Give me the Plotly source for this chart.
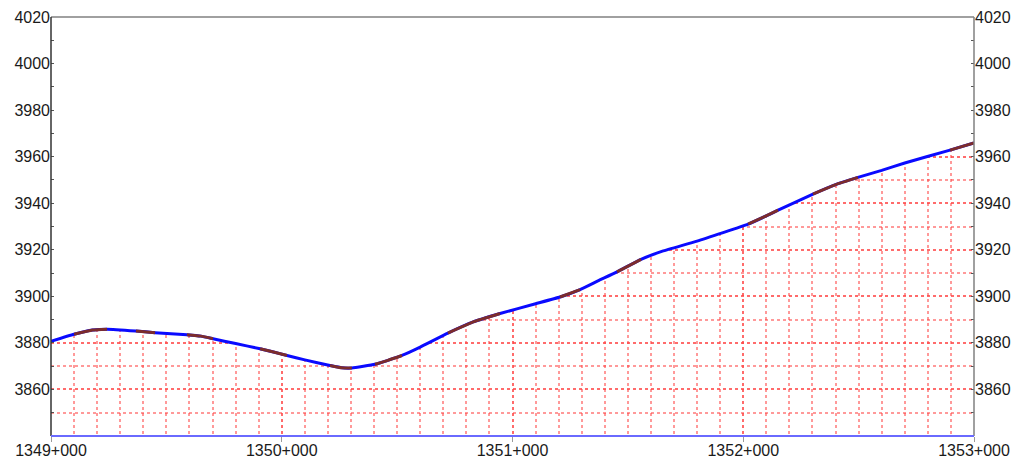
import plotly.graph_objects as go

# Longitudinal profile: chainage offset (m from 1349+000) and elevation (m)
chainage_m = [0, 100, 180, 243, 368, 451, 589, 650, 702, 800, 906, 960, 1023,
              1100, 1209, 1260, 1304, 1404, 1460, 1521, 1600, 1720, 1830, 1946,
              2100, 2206, 2293, 2370, 2453, 2557, 2650, 2800, 3021, 3090, 3151,
              3302, 3400, 3497, 3600, 3700, 3896, 4000]
elevation_m = [3880.7, 3883.7, 3885.5, 3885.9, 3885.1, 3884.4, 3883.5, 3882.9,
               3881.8, 3879.7, 3877.5, 3876.2, 3874.6, 3872.7, 3870.3, 3869.3,
               3869.2, 3870.8, 3872.5, 3874.6, 3878.2, 3884.2, 3889.0, 3892.6,
               3896.8, 3899.7, 3902.9, 3906.6, 3910.5, 3915.9, 3919.4, 3923.7,
               3931.0, 3934.1, 3937.0, 3943.9, 3948.0, 3951.1, 3954.1, 3957.3,
               3962.8, 3965.9]

# Vertical curve extents (start, end chainage offset)
vertical_curves = [(100, 243), (368, 451), (589, 702), (906, 1023), (1209, 1304),
                   (1404, 1521), (1720, 1946), (2206, 2293), (2453, 2557),
                   (3021, 3151), (3302, 3497), (3896, 4000)]

start_chainage = 1349000
x_ticks = [1349000, 1350000, 1351000, 1352000, 1353000]
x_tick_text = ["1349+000", "1350+000", "1351+000", "1352+000", "1353+000"]
y_ticks = [3860, 3880, 3900, 3920, 3940, 3960, 3980, 4000, 4020]
y_min, y_max = 3840, 4020

xs = [start_chainage + c for c in chainage_m]
smooth = dict(shape="spline", smoothing=0.4)

fig = go.Figure()

# white mask above the ground line hides the grid there
fig.add_trace(go.Scatter(x=xs, y=elevation_m, mode="lines",
                         line=dict(width=0, color="rgba(0,0,0,0)", **smooth),
                         hoverinfo="skip", showlegend=False))
fig.add_trace(go.Scatter(x=xs, y=[y_max] * len(xs), mode="lines",
                         line=dict(width=0, color="rgba(0,0,0,0)"),
                         fill="tonexty", fillcolor="white",
                         hoverinfo="skip", showlegend=False))

# tangent line
fig.add_trace(go.Scatter(x=xs, y=elevation_m, mode="lines",
                         line=dict(color="#0a0aff", width=3, **smooth),
                         hoverinfo="skip", showlegend=False))

# vertical curves drawn over the tangents
for lo, hi in vertical_curves:
    seg = [(start_chainage + c, e) for c, e in zip(chainage_m, elevation_m) if lo <= c <= hi]
    fig.add_trace(go.Scatter(x=[p[0] for p in seg], y=[p[1] for p in seg], mode="lines",
                             line=dict(color="#7c2c2c", width=3, **smooth),
                             hoverinfo="skip", showlegend=False))

# invisible trace so the right-hand axis is drawn
fig.add_trace(go.Scatter(x=[xs[0]], y=[elevation_m[0]], yaxis="y2", mode="markers",
                         marker=dict(opacity=0), hoverinfo="skip", showlegend=False))

grid_color = "rgba(255,70,70,0.55)"
tick_font = dict(family="Liberation Sans, Arial, sans-serif", size=16, color="#1a1a1a")

fig.update_layout(
    width=1019, height=461,
    margin=dict(l=51, r=45, t=17, b=25, autoexpand=False),
    paper_bgcolor="white", plot_bgcolor="white",
    xaxis=dict(range=[start_chainage, start_chainage + 4000], automargin=False,
               tickmode="array", tickvals=x_ticks, ticktext=x_tick_text,
               showgrid=True, gridcolor=grid_color, griddash="dot", gridwidth=1.5,
               minor=dict(dtick=100, tick0=start_chainage, showgrid=True,
                          gridcolor=grid_color, griddash="dot", gridwidth=1.5,
                          ticks=""),
               ticks="outside", ticklen=5, tickcolor="#9a9a9a", ticklabelstandoff=-5,
               showline=False, zeroline=False, tickfont=tick_font),
    yaxis=dict(range=[y_min, y_max], tickmode="array", tickvals=y_ticks, automargin=False,
               showgrid=True, gridcolor=grid_color, griddash="dot", gridwidth=1.5,
               minor=dict(dtick=10, tick0=y_min, showgrid=True, gridcolor=grid_color,
                          griddash="dot", gridwidth=1.5, ticks="inside", ticklen=3,
                          tickcolor="#555555"),
               ticks="inside", ticklen=3, tickcolor="#555555",
               showline=False, zeroline=False, tickfont=tick_font),
    yaxis2=dict(range=[y_min, y_max], overlaying="y", side="right", automargin=False,
                tickmode="array", tickvals=y_ticks, showgrid=False,
                minor=dict(dtick=10, tick0=y_min, ticks="inside", ticklen=3,
                           tickcolor="#555555", showgrid=False),
                ticks="inside", ticklen=3, tickcolor="#555555",
                showline=False, zeroline=False, tickfont=tick_font),
    shapes=[
        # frame
        dict(type="line", xref="paper", yref="paper", x0=0, x1=1, y0=1, y1=1,
             line=dict(color="#808080", width=1.5)),
        dict(type="line", xref="paper", yref="paper", x0=0, x1=0, y0=0, y1=1,
             line=dict(color="#333333", width=1.5)),
        dict(type="line", xref="paper", yref="paper", x0=1, x1=1, y0=0, y1=1,
             line=dict(color="#808080", width=1.5)),
        dict(type="line", xref="paper", yref="paper", x0=0, x1=1, y0=0, y1=0,
             line=dict(color="#6a6aff", width=2)),
    ],
)

fig.write_html("out.html")
